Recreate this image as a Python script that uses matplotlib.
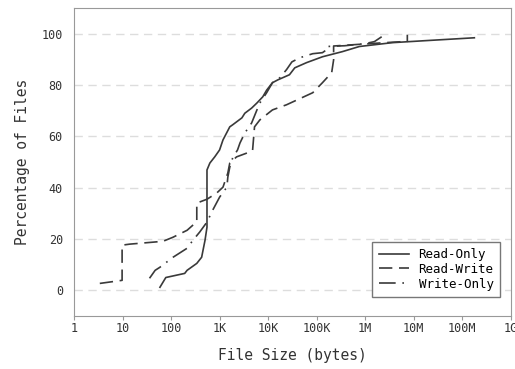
import matplotlib
matplotlib.use("Agg")
import matplotlib.pyplot as plt

plt.rcParams["font.family"] = "DejaVu Sans Mono"

# --------------------------------------------------
# Datos (tamaño en bytes, % acumulado)
# --------------------------------------------------
ro_size = [59, 78, 191, 214, 339, 427, 501, 550, 550, 631, 794, 1000, 1175,
           1622, 1862, 2884, 3311, 4571, 5888, 7762, 9333, 12300, 15850,
           27540, 35480, 61660, 131800, 338800, 758600, 3.63e6, 1.82e7, 1.78e8]
ro_pct = [1.2, 5, 6.6, 7.8, 10.5, 12.9, 19.5, 24.6, 46.9, 49.6, 52, 54.7, 58.6,
          63.7, 64.5, 67.2, 69, 71, 73, 75.4, 78, 80.9, 82,
          84, 86.7, 88.7, 91, 93, 95, 96.5, 97.3, 98.4]

rw_size = [3.4, 9.8, 9.8, 14, 68, 110, 214, 282, 339, 339, 550, 871, 1175,
           1479, 1622, 2239, 4169, 4786, 5248, 6761, 12300, 23990, 83180,
           131800, 204200, 223900, 223900, 398100, 1.0e6, 3.16e6, 7.4e6, 7.4e6]
rw_pct = [2.7, 3.9, 17.6, 18, 19.1, 20.7, 23.4, 25.4, 26.6, 34, 35.5, 37.9, 40.2,
          45.7, 49.6, 52, 53.9, 54.5, 63.7, 66.4, 70.3, 72.3, 77,
          80.9, 84.8, 89.8, 95.2, 95.5, 96, 96.6, 97, 99.6]

wo_size = [36, 47, 59, 110, 214, 282, 389, 550, 724, 1000, 1413, 1479, 1622,
           1862, 2344, 2630, 3311, 4571, 5888, 6761, 9333, 12300, 17380,
           24000, 30900, 44670, 83180, 131800, 162200, 162200, 380200,
           977000, 1.55e6, 2.19e6]
wo_pct = [4.7, 7.8, 9.0, 12.9, 16.4, 19.5, 22.7, 26.6, 31.3, 36.3, 40.2, 44.1, 48,
          51.6, 54.7, 57.4, 61.3, 65.2, 70.3, 73, 77, 80.9, 82.8,
          86, 89, 90.6, 92.2, 92.6, 93.8, 95, 95.3,
          96.1, 96.9, 98.8]

xticks = [1, 10, 100, 1e3, 1e4, 1e5, 1e6, 1e7, 1e8, 1e9]
xtick_labels = ["1", "10", "100", "1K", "10K", "100K", "1M", "10M", "100M", "1G"]
yticks = [0, 20, 40, 60, 80, 100]

# --------------------------------------------------
# Grafico
# --------------------------------------------------
fig = plt.figure(figsize=(5.15, 3.69), dpi=100)
ax = fig.add_axes([0.1437, 0.1436, 0.848, 0.8347])

color = "#3a3a3a"
ax.plot(ro_size, ro_pct, color=color, lw=1.2, linestyle="-", label="Read-Only")
ax.plot(rw_size, rw_pct, color=color, lw=1.2, linestyle=(0, (8, 4)), label="Read-Write")
ax.plot(wo_size, wo_pct, color=color, lw=1.2, linestyle=(0, (10, 4, 1, 4)), label="Write-Only")

ax.set_xscale("log")
ax.set_xlim(1, 1e9)
ax.set_ylim(-10, 110)
ax.set_xticks(xticks)
ax.set_xticklabels(xtick_labels)
ax.minorticks_off()
ax.set_yticks(yticks)

ax.yaxis.grid(True, color="#dddddd", linestyle=(0, (6, 4)), lw=1)
ax.set_axisbelow(True)
for s in ax.spines.values():
    s.set_color("#999999")

ax.tick_params(axis="x", colors="#999999", labelcolor="#333333", labelsize=8.5,
               length=3, pad=1.5)
ax.tick_params(axis="y", colors="#999999", labelcolor="#333333", labelsize=8.5,
               length=0, pad=8)

ax.set_xlabel("File Size (bytes)", fontsize=10.5, color="#333333", labelpad=9)
ax.set_ylabel("Percentage of Files", fontsize=10.5, color="#333333", labelpad=8)

leg = ax.legend(loc="lower right", bbox_to_anchor=(0.975, 0.062), borderaxespad=0,
                fontsize=9, fancybox=False, framealpha=1, edgecolor="#777777",
                handlelength=2.4, labelspacing=0.15, borderpad=0.5)
leg.get_frame().set_linewidth(1)

fig.savefig("out.png", dpi=100)
